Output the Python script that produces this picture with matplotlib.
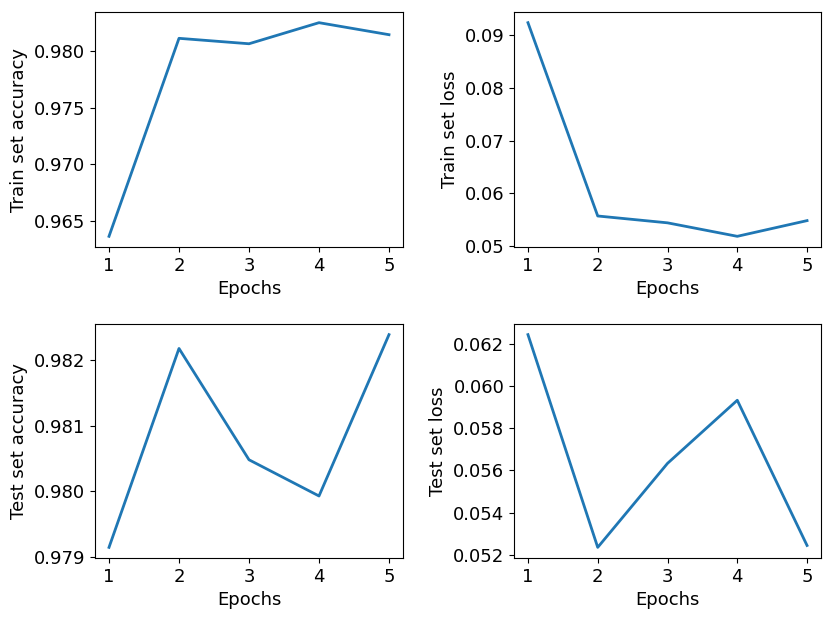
import matplotlib

matplotlib.use("Agg")
import matplotlib.pyplot as plt

epochs = [1, 2, 3, 4, 5]
train_acc = [0.96365, 0.98112, 0.98064, 0.98250, 0.98144]
train_loss = [0.0924, 0.0557, 0.0544, 0.05184, 0.05482]
test_acc = [0.97915, 0.98217, 0.98048, 0.97993, 0.98238]
test_loss = [0.06243, 0.05235, 0.05633, 0.05932, 0.05244]

plt.rcParams["font.size"] = 13

fig = plt.figure(figsize=(8.3, 6.25), dpi=100)
W, H = 830, 625
boxes = [
    (95, 12, 403, 247),
    (514, 12, 821, 247),
    (95, 324, 403, 558),
    (514, 324, 821, 558),
]
panels = [
    (train_acc, "Train set accuracy"),
    (train_loss, "Train set loss"),
    (test_acc, "Test set accuracy"),
    (test_loss, "Test set loss"),
]
for (x0, y0, x1, y1), (vals, ylab) in zip(boxes, panels):
    ax = fig.add_axes([x0 / W, 1 - y1 / H, (x1 - x0) / W, (y1 - y0) / H])
    ax.plot(epochs, vals, color="#1f77b4", lw=2)
    ax.set_xticks(epochs)
    ax.set_xlabel("Epochs")
    ax.set_ylabel(ylab)

fig.savefig("out.png", dpi=100)
